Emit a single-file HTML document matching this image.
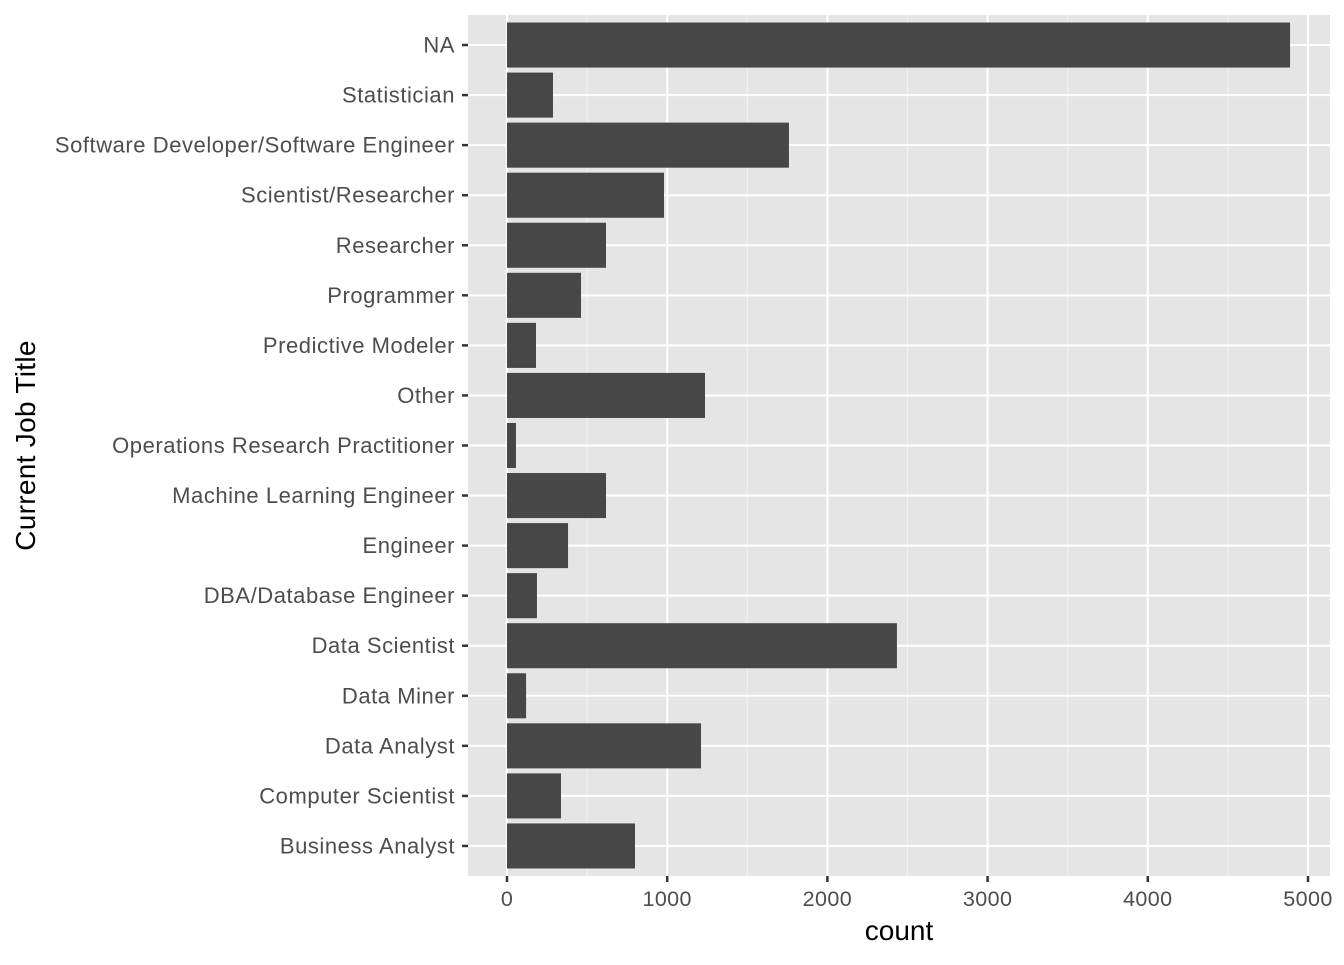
<!DOCTYPE html>
<html><head><meta charset="utf-8"><style>
body{margin:0;background:#fff;font-family:"Liberation Sans",Arial,sans-serif}
</style></head><body>
<svg width="1344" height="960" xmlns="http://www.w3.org/2000/svg">
<g id="chart"></g>
</svg>
<script>
const categories=["Business Analyst","Computer Scientist","Data Analyst","Data Miner","Data Scientist","DBA/Database Engineer","Engineer","Machine Learning Engineer","Operations Research Practitioner","Other","Predictive Modeler","Programmer","Researcher","Scientist/Researcher","Software Developer/Software Engineer","Statistician","NA"];
const counts=[799,337,1211,119,2434,187,381,618,56,1236,181,462,618,980,1760,287,4888];
const xTicks=[0,1000,2000,3000,4000,5000];
const xMinor=[500,1500,2500,3500,4500];

const NS="http://www.w3.org/2000/svg";
const g=document.getElementById('chart');
const PL=468,PR=1330,PT=15,PB=876;
const x=v=>507+v*0.1602;
const n=categories.length;
const step=(PB-PT)/(n+0.2);
const y=i=>PB-(i+0.6)*step;
function mk(t,a,parent){const e=document.createElementNS(NS,t);for(const k in a)e.setAttribute(k,a[k]);(parent||g).appendChild(e);return e;}
const panel=mk('rect',{x:PL,y:PT,width:PR-PL,height:PB-PT,fill:'#e5e5e5'});


xMinor.forEach(v=>{const l=mk('line',{x1:x(v),x2:x(v),y1:PT,y2:PB,stroke:'#f2f2f2','stroke-width':1});

});
xTicks.forEach(v=>{const l=mk('line',{x1:x(v),x2:x(v),y1:PT,y2:PB,stroke:'#fff','stroke-width':2});


const t=mk('line',{x1:x(v),x2:x(v),y1:PB,y2:PB+6,stroke:'#333','stroke-width':2.5});


const lb=mk('text',{x:x(v),y:PB+30,'text-anchor':'middle','font-size':21.5,'letter-spacing':0.4,fill:'#4d4d4d'});lb.textContent=v;

});
categories.forEach((c,i)=>{const yc=y(i);
const l=mk('line',{x1:PL,x2:PR,y1:yc,y2:yc,stroke:'#fff','stroke-width':2});

});
categories.forEach((c,i)=>{const yc=y(i);const h=step*0.9;
const b=mk('rect',{x:x(0),y:yc-h/2,width:x(counts[i])-x(0),height:h,fill:'#474747'});


const t=mk('line',{x1:PL-6,x2:PL,y1:yc,y2:yc,stroke:'#333','stroke-width':2.5});


const lb=mk('text',{x:PL-13,y:yc+7.5,'text-anchor':'end','font-size':22,'letter-spacing':0.55,fill:'#4d4d4d'});lb.textContent=c;

});
const xt=mk('text',{x:(PL+PR)/2,y:940,'text-anchor':'middle','font-size':28,fill:'#000'});xt.textContent='count';


const yt=mk('text',{x:0,y:0,'text-anchor':'middle','font-size':28,'letter-spacing':0.3,fill:'#000',transform:`translate(35,${(PT+PB)/2}) rotate(-90)`});yt.textContent='Current Job Title';


</script>
</body></html>
